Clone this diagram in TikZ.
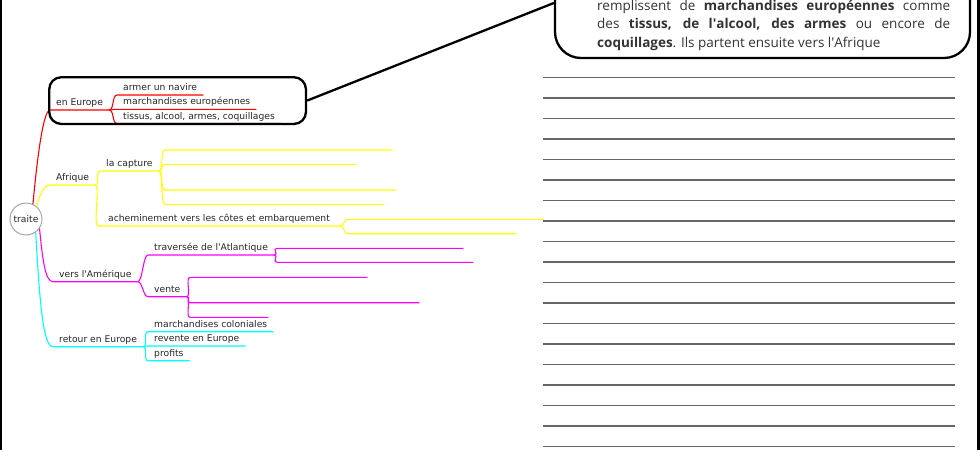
\documentclass[tikz,border=0pt]{standalone}
\usepackage{amsmath}
\usepackage{fontspec}
\setmainfont{DejaVu Sans}
\newfontfamily\callfont{Open Sans}
\usepackage{tikz}
\usepackage{color}
\definecolor{mmred}{RGB}{255,0,0}
\definecolor{mmyellow}{RGB}{255,255,0}
\definecolor{mmmagenta}{RGB}{255,0,255}
\definecolor{mmcyan}{RGB}{0,255,255}

\begin{document}
\begin{tikzpicture}[x=1pt,y=-1pt,
  lbl/.style={anchor=south west,inner xsep=6pt,inner ysep=2pt,text height=7pt,text depth=2.2pt,font=\fontsize{9.2}{11}\selectfont,text=black!85},
  blank/.style={anchor=south west,inner sep=0pt,minimum height=2pt},
  link/.style={line width=1.1pt},
  bubble/.style={draw=black,line width=2.3pt,rounded corners=12pt,minimum width=#1},
  ruled/.style={draw=black!60,line width=1.5pt},
  calltxt/.style={anchor=base west,inner sep=0pt,font=\callfont\fontsize{13.5}{18}\selectfont,text=black!80}]
\useasboundingbox (0,0) rectangle (980,450);
\clip (0,0) rectangle (980,450);
\draw[line width=2pt] (1,0)--(1,450);
\draw[line width=2.5pt] (978.5,0)--(978.5,450);
\node[draw=black!35,line width=1pt,circle,minimum size=32pt,inner sep=0pt,font=\fontsize{9.2}{11}\selectfont,text=black!85] (traite) at (26,219) {traite};
\node[lbl] (eur) at (50,110) {en Europe};
\node[lbl] (nav) at (117,95) {armer un navire};
\node[lbl] (mar) at (117,109.3) {marchandises européennes};
\node[lbl] (tis) at (117,123.5) {tissus, alcool, armes, coquillages};
\node[lbl] (afr) at (50,185) {Afrique};
\node[lbl] (cap) at (100,171) {la capture};
\node[blank,minimum width=227pt] (capa) at (165,150) {};
\node[blank,minimum width=191pt] (capb) at (165,164.3) {};
\node[blank,minimum width=231pt] (capc) at (165,190) {};
\node[blank,minimum width=219pt] (capd) at (165,204.3) {};
\node[lbl,inner xsep=10pt] (ach) at (98,226) {acheminement vers les côtes et embarquement};
\node[blank,minimum width=195pt] (acha) at (348,219.3) {};
\node[blank,minimum width=168pt] (achb) at (348,233.7) {};
\node[lbl] (ame) at (53,281.7) {vers l\textquotesingle Amérique};
\node[lbl] (atl) at (148,255) {traversée de l\textquotesingle Atlantique};
\node[blank,minimum width=186pt] (atla) at (277,248.3) {};
\node[blank,minimum width=196pt] (atlb) at (277,262.3) {};
\node[lbl] (ven) at (148,296.7) {vente};
\node[blank,minimum width=177pt] (vena) at (190,277.3) {};
\node[blank,minimum width=229pt] (venb) at (190,302.7) {};
\node[blank,minimum width=78pt] (venc) at (190,317.3) {};
\node[lbl] (ret) at (53,346.7) {retour en Europe};
\node[lbl] (col) at (148,331.7) {marchandises coloniales};
\node[lbl] (rev) at (148,346) {revente en Europe};
\node[lbl] (pro) at (148,360.7) {profits};
\draw[mmred,link] (traite.65) .. controls +(5,-55) and +(-6,0) .. (eur.south west)--(eur.south east);
\draw[mmred,link] (eur.south east) .. controls +(5,0) and +(-5,0) .. (nav.south west)--(nav.south east);
\draw[mmred,link] (eur.south east) .. controls +(5,0) and +(-5,0) .. (mar.south west)--(mar.south east);
\draw[mmred,link] (eur.south east) .. controls +(5,0) and +(-5,0) .. (tis.south west)--(tis.south east);
\draw[mmyellow,link] (traite.50) .. controls +(3,-12) and +(-6,0) .. (afr.south west)--(afr.south east);
\draw[mmyellow,link] (afr.south east) .. controls +(5,0) and +(-5,0) .. (cap.south west)--(cap.south east);
\draw[mmyellow,link] (afr.south east) .. controls +(5,0) and +(-5,0) .. (ach.south west)--(ach.south east);
\draw[mmyellow,link] (cap.south east) .. controls +(5,0) and +(-5,0) .. (capa.south west)--(capa.south east);
\draw[mmyellow,link] (cap.south east) .. controls +(5,0) and +(-5,0) .. (capb.south west)--(capb.south east);
\draw[mmyellow,link] (cap.south east) .. controls +(5,0) and +(-5,0) .. (capc.south west)--(capc.south east);
\draw[mmyellow,link] (cap.south east) .. controls +(5,0) and +(-5,0) .. (capd.south west)--(capd.south east);
\draw[mmyellow,link] (ach.south east) .. controls +(5,0) and +(-5,0) .. (acha.south west)--(acha.south east);
\draw[mmyellow,link] (ach.south east) .. controls +(5,0) and +(-5,0) .. (achb.south west)--(achb.south east);
\draw[mmmagenta,link] (traite.-35) .. controls +(3,30) and +(-8,0) .. (ame.south west)--(ame.south east);
\draw[mmmagenta,link] (ame.south east) .. controls +(5,0) and +(-5,0) .. (atl.south west)--(atl.south east);
\draw[mmmagenta,link] (ame.south east) .. controls +(5,0) and +(-5,0) .. (ven.south west)--(ven.south east);
\draw[mmmagenta,link] (atl.south east) .. controls +(5,0) and +(-5,0) .. (atla.south west)--(atla.south east);
\draw[mmmagenta,link] (atl.south east) .. controls +(5,0) and +(-5,0) .. (atlb.south west)--(atlb.south east);
\draw[mmmagenta,link] (ven.south east) .. controls +(5,0) and +(-5,0) .. (vena.south west)--(vena.south east);
\draw[mmmagenta,link] (ven.south east) .. controls +(5,0) and +(-5,0) .. (venb.south west)--(venb.south east);
\draw[mmmagenta,link] (ven.south east) .. controls +(5,0) and +(-5,0) .. (venc.south west)--(venc.south east);
\draw[mmcyan,link] (traite.-54) .. controls +(4,70) and +(-10,0) .. (ret.south west)--(ret.south east);
\draw[mmcyan,link] (ret.south east) .. controls +(5,0) and +(-5,0) .. (col.south west)--(col.south east);
\draw[mmcyan,link] (ret.south east) .. controls +(5,0) and +(-5,0) .. (rev.south west)--(rev.south east);
\draw[mmcyan,link] (ret.south east) .. controls +(5,0) and +(-5,0) .. (pro.south west)--(pro.south east);
\node[bubble=256.7pt,minimum height=46.7pt] (eubox) at (177.6,100.6) {};
\node[bubble=415pt,rounded corners=26pt,minimum height=110pt] (call) at (762.5,3) {};
\draw[line width=2.3pt] (eubox.east)--(call.west);
\node[calltxt] (cla) at (597,10) {\makebox[353pt][s]{remplissent de \textbf{marchandises européennes} comme}};
\node[calltxt] (clb) at (597,28.5) {\makebox[353pt][s]{des \textbf{tissus, de l\textquotesingle alcool, des armes} ou encore de}};
\node[calltxt] (clc) at (597,47) {\textbf{coquillages}. Ils partent ensuite vers l\textquotesingle Afrique};
\draw[ruled] (543,77.7)--(955,77.7);
\draw[ruled] (543,98.2)--(955,98.2);
\draw[ruled] (543,118.7)--(955,118.7);
\draw[ruled] (543,139.2)--(955,139.2);
\draw[ruled] (543,159.7)--(955,159.7);
\draw[ruled] (543,180.2)--(955,180.2);
\draw[ruled] (543,200.7)--(955,200.7);
\draw[ruled] (543,221.2)--(955,221.2);
\draw[ruled] (543,241.7)--(955,241.7);
\draw[ruled] (543,262.2)--(955,262.2);
\draw[ruled] (543,282.7)--(955,282.7);
\draw[ruled] (543,303.2)--(955,303.2);
\draw[ruled] (543,323.7)--(955,323.7);
\draw[ruled] (543,344.2)--(955,344.2);
\draw[ruled] (543,364.7)--(955,364.7);
\draw[ruled] (543,385.2)--(955,385.2);
\draw[ruled] (543,405.7)--(955,405.7);
\draw[ruled] (543,426.2)--(955,426.2);
\draw[ruled] (543,446.7)--(955,446.7);
\end{tikzpicture}
\end{document}
